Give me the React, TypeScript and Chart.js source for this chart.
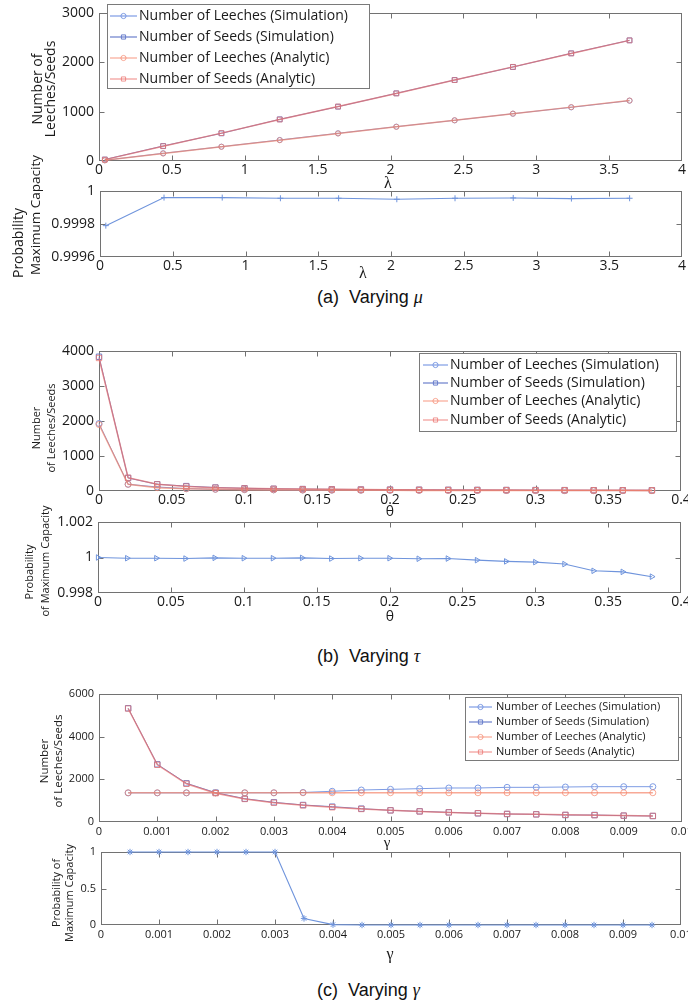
import React, { useEffect, useRef } from 'react';
import { Chart, registerables } from 'chart.js';

Chart.register(...registerables);

// ---------- DATA ----------
// (a) Varying mu
const aX = [0.04, 0.44, 0.84, 1.24, 1.64, 2.04, 2.44, 2.84, 3.24, 3.64];
const aLeechesSim = [15, 156, 290, 426, 561, 696, 824, 959, 1088, 1223];
const aSeedsSim = [30, 304, 561, 845, 1101, 1372, 1642, 1905, 2183, 2446];
const aLeechesAna = [14, 152, 288, 422, 558, 692, 826, 960, 1092, 1225];
const aSeedsAna = [28, 300, 565, 840, 1105, 1370, 1640, 1908, 2180, 2445];
const aProb = [0.99979, 0.99996, 0.99996, 0.999956, 0.999956, 0.99995, 0.999956, 0.999958, 0.999954, 0.999956];
const aXTicks = [0, 0.5, 1, 1.5, 2, 2.5, 3, 3.5, 4];
const aYTicks = [0, 1000, 2000, 3000];
const aProbTicks = [0.9996, 0.9998, 1];

// (b) Varying tau
const bX = [0, 0.02, 0.04, 0.06, 0.08, 0.1, 0.12, 0.14, 0.16, 0.18, 0.2, 0.22, 0.24, 0.26, 0.28, 0.3, 0.32, 0.34, 0.36, 0.38];
const bSeedsSim = [3836, 372, 192, 140, 100, 78, 64, 55, 48, 43, 39, 36, 33, 30, 28, 26, 25, 23, 22, 21];
const bSeedsAna = [3800, 380, 190, 127, 95, 76, 63, 54, 48, 42, 38, 35, 32, 29, 27, 25, 24, 22, 21, 20];
const bLeechesSim = [1929, 192, 115, 68, 50, 39, 33, 28, 24, 22, 20, 18, 17, 15, 14, 13, 12, 12, 11, 11];
const bLeechesAna = [1900, 190, 95, 63, 48, 38, 32, 27, 24, 21, 19, 17, 16, 15, 14, 13, 12, 11, 11, 10];
const bProb = [1.0, 0.99996, 0.99996, 0.99994, 0.99998, 0.99996, 0.99996, 0.99998, 0.99994, 0.99996, 0.99996, 0.99993, 0.99994, 0.99985, 0.99978, 0.99974, 0.99963, 0.99925, 0.99919, 0.99892];
const bXTicks = [0, 0.05, 0.1, 0.15, 0.2, 0.25, 0.3, 0.35, 0.4];
const bYTicks = [0, 1000, 2000, 3000, 4000];
const bProbTicks = [0.998, 1, 1.002];

// (c) Varying gamma
const cX = [0.0005, 0.001, 0.0015, 0.002, 0.0025, 0.003, 0.0035, 0.004, 0.0045, 0.005, 0.0055, 0.006, 0.0065, 0.007, 0.0075, 0.008, 0.0085, 0.009, 0.0095];
const cLeechesSim = [1365, 1365, 1365, 1368, 1368, 1368, 1385, 1440, 1500, 1531, 1563, 1594, 1594, 1625, 1625, 1640, 1656, 1656, 1656];
const cLeechesAna = [1370, 1370, 1370, 1370, 1370, 1370, 1370, 1370, 1370, 1370, 1370, 1370, 1370, 1370, 1370, 1370, 1370, 1370, 1370];
const cSeedsSim = [5330, 2703, 1813, 1375, 1093, 922, 797, 719, 625, 547, 500, 453, 406, 375, 360, 328, 328, 297, 281];
const cSeedsAna = [5320, 2680, 1790, 1350, 1080, 905, 780, 690, 610, 545, 495, 450, 412, 380, 358, 335, 320, 300, 285];
const cProb = [1, 1, 1, 1, 1, 1, 0.09, 0.005, 0, 0, 0, 0, 0, 0, 0, 0, 0, 0, 0];
const cXTicks = [0, 0.001, 0.002, 0.003, 0.004, 0.005, 0.006, 0.007, 0.008, 0.009, 0.01];
const cYTicks = [0, 2000, 4000, 6000];
const cProbTicks = [0, 0.5, 1];

const seriesLabels = [
  'Number of Leeches (Simulation)',
  'Number of Seeds (Simulation)',
  'Number of Leeches (Analytic)',
  'Number of Seeds (Analytic)',
];

// ---------- STYLE ----------
const W = 688;
const SANS = '"Open Sans"';
const FRAME = '#727272';
const TICK_LEN = 5;
const SIM_LEECH = '#7e9ce4';
const SIM_SEED = '#6a7fcc';
const ANA_LEECH = 'rgba(244,128,100,0.68)';
const ANA_SEED = 'rgba(236,112,108,0.72)';
const PROB_BLUE = '#6f94dc';

const pts = (xs: number[], ys: number[]) => xs.map((x, i) => ({ x, y: ys[i] }));

function numberSeries(xs: number[], ls: number[], ss: number[], la: number[], sa: number[], r: number) {
  const base = { showLine: true, tension: 0, clip: false as any, pointBorderWidth: 1, pointBackgroundColor: 'rgba(0,0,0,0)', pointRadius: r };
  return [
    { ...base, label: seriesLabels[0], data: pts(xs, ls), borderWidth: 1, borderColor: SIM_LEECH, pointBorderColor: SIM_LEECH, pointStyle: 'circle', order: 2 },
    { ...base, label: seriesLabels[1], data: pts(xs, ss), borderWidth: 1, borderColor: SIM_SEED, pointBorderColor: SIM_SEED, pointStyle: 'rect', pointRadius: r + 0.8, order: 2 },
    { ...base, label: seriesLabels[2], data: pts(xs, la), borderWidth: 1.5, borderColor: ANA_LEECH, pointBorderColor: ANA_LEECH, pointStyle: 'circle', order: 1 },
    { ...base, label: seriesLabels[3], data: pts(xs, sa), borderWidth: 1.5, borderColor: ANA_SEED, pointBorderColor: ANA_SEED, pointStyle: 'rect', pointRadius: r + 0.8, order: 1 },
  ];
}

function probSeries(xs: number[], ys: number[], style: string, r: number, rot = 0, fill = false) {
  return [{
    label: 'Probability', data: pts(xs, ys), showLine: true, borderWidth: 1.1, tension: 0, clip: false as any,
    borderColor: PROB_BLUE, pointBorderColor: PROB_BLUE, pointBackgroundColor: fill ? PROB_BLUE : 'rgba(0,0,0,0)',
    pointStyle: style, pointRadius: r, pointRotation: rot, pointBorderWidth: 1,
  }];
}

type TextItem = { text: string; x: number; y: number; size: number; family?: string };
type LegendCfg = { box: [number, number, number, number]; rows: number[]; line: [number, number]; textX: number; size: number; r: number };
type PanelCfg = {
  top: number; height: number;
  plot: { l: number; r: number; t: number; b: number };
  xMin: number; xMax: number; xTicks: number[];
  yMin: number; yMax: number; yTicks: number[];
  tickSize: number; xPad: number;
  datasets: any[];
  legend?: LegendCfg;
  yTitles: TextItem[];
  xTitle: TextItem;
};

function drawLegendMarker(ctx: CanvasRenderingContext2D, style: string, x: number, y: number, r: number, color: string) {
  ctx.strokeStyle = color;
  ctx.lineWidth = 1;
  ctx.beginPath();
  if (style === 'rect') {
    const s = r * 0.8;
    ctx.rect(x - s, y - s, 2 * s, 2 * s);
  } else {
    ctx.arc(x, y, r, 0, Math.PI * 2);
  }
  ctx.stroke();
}

function framePlugin(p: PanelCfg) {
  return {
    id: 'matlabFrame',
    beforeDatasetsDraw(chart: any) {
      const { ctx, chartArea: a } = chart;
      const xs = chart.scales.x, ys = chart.scales.y;
      const L = Math.round(a.left) + 0.5, R = Math.round(a.right) - 0.5;
      const T = Math.round(a.top) + 0.5, B = Math.round(a.bottom) - 0.5;
      ctx.save();
      ctx.strokeStyle = FRAME;
      ctx.lineWidth = 1;
      ctx.strokeRect(L, T, R - L, B - T);
      ctx.beginPath();
      p.xTicks.forEach((v) => {
        const px = Math.round(xs.getPixelForValue(v)) + 0.5;
        if (px <= L + 1 || px >= R - 1) return;
        ctx.moveTo(px, B); ctx.lineTo(px, B - TICK_LEN);
        ctx.moveTo(px, T); ctx.lineTo(px, T + TICK_LEN);
      });
      p.yTicks.forEach((v) => {
        const py = Math.round(ys.getPixelForValue(v)) + 0.5;
        if (py <= T + 1 || py >= B - 1) return;
        ctx.moveTo(L, py); ctx.lineTo(L + TICK_LEN, py);
        ctx.moveTo(R, py); ctx.lineTo(R - TICK_LEN, py);
      });
      ctx.stroke();
      ctx.restore();
    },
    afterDraw(chart: any) {
      const ctx: CanvasRenderingContext2D = chart.ctx;
      const off = p.top;
      ctx.save();
      // y titles
      ctx.fillStyle = '#1a1a1a';
      p.yTitles.forEach((t) => {
        ctx.save();
        ctx.font = `${t.size}px ${t.family || SANS}`;
        ctx.translate(t.x, t.y - off);
        ctx.rotate(-Math.PI / 2);
        ctx.textAlign = 'center';
        ctx.textBaseline = 'middle';
        ctx.fillText(t.text, 0, 0);
        ctx.restore();
      });
      // x title
      const xt = p.xTitle;
      ctx.font = `${xt.size}px ${xt.family || SANS}`;
      ctx.textAlign = 'center';
      ctx.textBaseline = 'middle';
      ctx.fillText(xt.text, xt.x, xt.y - off);
      // legend
      const lg = p.legend;
      if (lg) {
        const [l, t, r, b] = lg.box;
        ctx.fillStyle = '#ffffff';
        ctx.fillRect(l, t - off, r - l, b - t);
        ctx.strokeStyle = '#7a7a7a';
        ctx.lineWidth = 1;
        ctx.strokeRect(l + 0.5, t - off + 0.5, r - l - 1, b - t - 1);
        chart.data.datasets.forEach((ds: any, i: number) => {
          const y = lg.rows[i] - off;
          ctx.strokeStyle = ds.borderColor;
          ctx.lineWidth = 1.2;
          ctx.beginPath();
          ctx.moveTo(lg.line[0], y);
          ctx.lineTo(lg.line[1], y);
          ctx.stroke();
          drawLegendMarker(ctx, ds.pointStyle, (lg.line[0] + lg.line[1]) / 2, y, lg.r, ds.borderColor);
          ctx.fillStyle = '#1a1a1a';
          ctx.font = `${lg.size}px ${SANS}`;
          ctx.textAlign = 'left';
          ctx.textBaseline = 'middle';
          ctx.fillText(ds.label, lg.textX, y);
        });
      }
      ctx.restore();
    },
  };
}

function buildConfig(p: PanelCfg): any {
  const bottom = p.top + p.height;
  const tickFont = { family: SANS, size: p.tickSize };
  return {
    type: 'line',
    data: { datasets: p.datasets },
    options: {
      animation: false,
      responsive: false,
      devicePixelRatio: 1,
      events: [],
      layout: { padding: { left: 0, right: W - p.plot.r, top: p.plot.t - p.top, bottom: 0 } },
      plugins: { legend: { display: false }, tooltip: { enabled: false }, title: { display: false } },
      scales: {
        x: {
          type: 'linear', min: p.xMin, max: p.xMax,
          grid: { display: false, drawTicks: false }, border: { display: false },
          afterBuildTicks: (s: any) => { s.ticks = p.xTicks.map((v) => ({ value: v })); },
          afterFit: (s: any) => { s.height = bottom - p.plot.b; s.paddingLeft = 0; s.paddingRight = 0; },
          ticks: { autoSkip: false, maxRotation: 0, minRotation: 0, padding: p.xPad, color: '#1a1a1a', font: tickFont, callback: (v: number) => String(v) },
        },
        y: {
          type: 'linear', min: p.yMin, max: p.yMax,
          grid: { display: false, drawTicks: false }, border: { display: false },
          afterBuildTicks: (s: any) => { s.ticks = p.yTicks.map((v) => ({ value: v })); },
          afterFit: (s: any) => { s.width = p.plot.l; s.paddingTop = 0; s.paddingBottom = 0; },
          ticks: { autoSkip: false, padding: 5, color: '#1a1a1a', font: tickFont, callback: (v: number) => String(v) },
        },
      },
    },
    plugins: [framePlugin(p)],
  };
}

const panels: PanelCfg[] = [
  {
    top: 0, height: 192, plot: { l: 99, r: 682, t: 13, b: 161 },
    xMin: 0, xMax: 4, xTicks: aXTicks, yMin: 0, yMax: 3000, yTicks: aYTicks, tickSize: 14, xPad: 1,
    datasets: numberSeries(aX, aLeechesSim, aSeedsSim, aLeechesAna, aSeedsAna, 2.6),
    legend: { box: [107, 4, 370, 89], rows: [16, 37, 58, 79], line: [110, 137], textX: 139, size: 14, r: 2.6 },
    yTitles: [
      { text: 'Number of', x: 38, y: 89, size: 14 },
      { text: 'Leeches/Seeds', x: 51, y: 89, size: 14 },
    ],
    xTitle: { text: 'λ', x: 388, y: 184, size: 16, family: '"Liberation Serif"' },
  },
  {
    top: 150, height: 135, plot: { l: 100, r: 682, t: 191, b: 257 },
    xMin: 0, xMax: 4, xTicks: aXTicks, yMin: 0.9996, yMax: 1, yTicks: aProbTicks, tickSize: 14, xPad: 1,
    datasets: probSeries(aX, aProb, 'cross', 3),
    yTitles: [
      { text: 'Probability', x: 19, y: 243, size: 14 },
      { text: 'Maximum Capacity', x: 36, y: 215, size: 13.5 },
    ],
    xTitle: { text: 'λ', x: 363, y: 274, size: 16, family: '"Liberation Serif"' },
  },
  {
    top: 330, height: 190, plot: { l: 99, r: 681, t: 351, b: 491 },
    xMin: 0, xMax: 0.4, xTicks: bXTicks, yMin: 0, yMax: 4000, yTicks: bYTicks, tickSize: 14, xPad: 1,
    datasets: numberSeries(bX, bLeechesSim, bSeedsSim, bLeechesAna, bSeedsAna, 3),
    legend: { box: [419, 353, 677, 432], rows: [365, 383, 401, 420], line: [423, 448], textX: 450, size: 14, r: 2.6 },
    yTitles: [
      { text: 'Number', x: 37, y: 428, size: 11 },
      { text: 'of Leeches/Seeds', x: 52, y: 428, size: 11 },
    ],
    xTitle: { text: 'θ', x: 390, y: 512, size: 14 },
  },
  {
    top: 500, height: 125, plot: { l: 98, r: 681, t: 522, b: 593 },
    xMin: 0, xMax: 0.4, xTicks: bXTicks, yMin: 0.998, yMax: 1.002, yTicks: bProbTicks, tickSize: 14, xPad: 1,
    datasets: probSeries(bX, bProb, 'triangle', 3.2, 90),
    yTitles: [
      { text: 'Probability', x: 30, y: 572, size: 11 },
      { text: 'of Maximum Capacity', x: 46, y: 561, size: 11 },
    ],
    xTitle: { text: 'θ', x: 390, y: 617, size: 14 },
  },
  {
    top: 680, height: 170, plot: { l: 99, r: 682, t: 694, b: 822 },
    xMin: 0, xMax: 0.01, xTicks: cXTicks, yMin: 0, yMax: 6000, yTicks: cYTicks, tickSize: 11, xPad: 3,
    datasets: numberSeries(cX, cLeechesSim, cSeedsSim, cLeechesAna, cSeedsAna, 3),
    legend: { box: [465, 697, 679, 761], rows: [707, 722, 737, 752], line: [469, 492], textX: 496, size: 11, r: 2.6 },
    yTitles: [
      { text: 'Number', x: 45, y: 761, size: 11.5 },
      { text: 'of Leeches/Seeds', x: 59, y: 761, size: 11.5 },
    ],
    xTitle: { text: 'γ', x: 387, y: 843, size: 15, family: '"Liberation Serif"' },
  },
  {
    top: 835, height: 135, plot: { l: 101, r: 681, t: 852, b: 925 },
    xMin: 0, xMax: 0.01, xTicks: cXTicks, yMin: 0, yMax: 1, yTicks: cProbTicks, tickSize: 11, xPad: 3,
    datasets: probSeries(cX, cProb, 'star', 3.2, 0, true),
    yTitles: [
      { text: 'Probability of', x: 57, y: 893, size: 11 },
      { text: 'Maximum Capacity', x: 70, y: 893, size: 11 },
    ],
    xTitle: { text: 'γ', x: 390, y: 955, size: 16, family: '"Liberation Serif"' },
  },
];

function Panel({ cfg }: { cfg: PanelCfg }) {
  const ref = useRef<HTMLCanvasElement>(null);
  useEffect(() => {
    const chart = new Chart(ref.current as HTMLCanvasElement, buildConfig(cfg));
    return () => chart.destroy();
  }, [cfg]);
  return (
    <canvas
      ref={ref}
      width={W}
      height={cfg.height}
      style={{ position: 'absolute', left: 0, top: cfg.top, width: W, height: cfg.height }}
    />
  );
}

const captions = [
  { tag: '(a)', sym: 'μ', y: 297 },
  { tag: '(b)', sym: 'τ', y: 656 },
  { tag: '(c)', sym: 'γ', y: 990 },
];

export default function App() {
  return (
    <div style={{ position: 'absolute', left: 0, top: 0, width: W, height: 1007, background: '#fff', overflow: 'hidden' }}>
      {panels.map((p, i) => <Panel key={i} cfg={p} />)}
      {captions.map((c) => (
        <div
          key={c.tag}
          style={{
            position: 'absolute', left: 317, top: c.y - 11, height: 22, lineHeight: '22px',
            fontFamily: '"Liberation Sans", Arial, sans-serif', fontSize: 18, color: '#111', whiteSpace: 'pre',
          }}
        >
          {c.tag}{'  '}Varying{' '}
          <span style={{ fontFamily: '"Liberation Serif", serif', fontStyle: 'italic' }}>{c.sym}</span>
        </div>
      ))}
    </div>
  );
}
